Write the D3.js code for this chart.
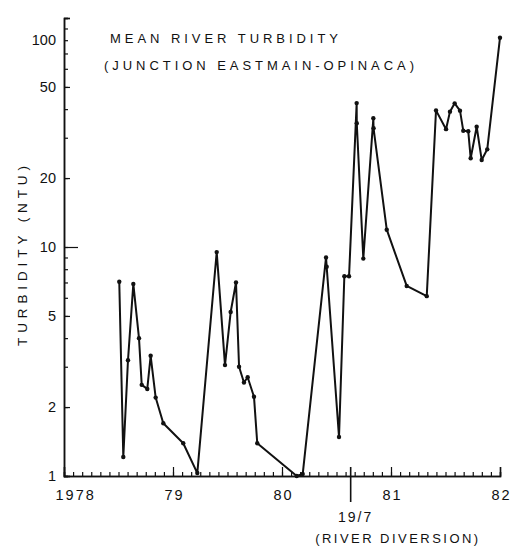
<!DOCTYPE html>
<html>
<head>
<meta charset="utf-8">
<script src="https://cdn.jsdelivr.net/npm/d3@7"></script>
<style>
  body { margin: 0; background: #fff; }
  text { font-family: "Liberation Sans", Arial, sans-serif; fill: #111; }
</style>
</head>
<body>
<div id="container"></div>
<script>
// sampling dates as decimal years
let dates = [
  1978.507, 1978.544, 1978.587, 1978.636, 1978.688, 1978.713, 1978.764, 1978.795,
  1978.841, 1978.911, 1979.094, 1979.223,
  1979.401, 1979.477, 1979.529, 1979.578, 1979.606, 1979.651, 1979.685, 1979.743,
  1979.773, 1980.135, 1980.190,
  1980.404, 1980.410, 1980.523, 1980.572, 1980.615, 1980.685, 1980.686, 1980.746,
  1980.838, 1980.840, 1980.961, 1981.144, 1981.328,
  1981.413, 1981.505, 1981.541, 1981.584, 1981.633, 1981.663, 1981.709, 1981.731,
  1981.786, 1981.832, 1981.883, 1982.0
];
// mean turbidity (NTU)
let turbidity = [
  7.05, 1.21, 3.2, 6.9, 4.0, 2.5, 2.4, 3.35,
  2.2, 1.7, 1.39, 1.03,
  9.5, 3.05, 5.2, 7.0, 3.0, 2.56, 2.7, 2.22,
  1.39, 1.0, 1.02,
  9.0, 8.2, 1.48, 7.45, 7.45, 42.5, 34.7, 8.9,
  36.5, 33, 11.9, 6.76, 6.1,
  39.5, 32.7, 39, 42.4, 39.4, 32.2, 32, 24.4,
  33.5, 24, 26.7, 82
];

let yLabelled = [1, 2, 5, 10, 20, 50, 100];
let yMinor = [1, 2, 3, 4, 5, 6, 7, 8, 9, 10, 20, 30, 40, 50, 60, 70, 80, 90, 100];
let xYears = [1978, 1979, 1980, 1981, 1982];
let xYearLabels = ["1978", "79", "80", "81", "82"];
let diversionDate = 1980.63;
let diversionLabel = "19/7";
let diversionNote = "(RIVER DIVERSION)";
let titleLines = ["MEAN RIVER TURBIDITY", "(JUNCTION EASTMAIN-OPINACA)"];
let yTitle = "TURBIDITY (NTU)";

let w = 519;
let h = 546;
let padLeft = 64;
let padRight = 500;
let padTop = 18;
let padBottom = 476;

let viz = d3.select("#container")
  .append("svg")
    .attr("width", w)
    .attr("height", h)
;

let xScale = d3.scaleLinear().domain([1978, 1982]).range([padLeft, padRight]);
let yScale = d3.scaleLog().domain([1, 100]).range([padBottom, padTop]);

// monthly ticks along the bottom
let months = d3.range(0, 49).map(function(i){ return 1978 + i / 12; });
let xMinorAxis = d3.axisBottom(xScale)
  .tickValues(months)
  .tickSize(-4)
  .tickFormat("")
;
viz.append("g")
    .attr("transform", "translate(0," + padBottom + ")")
    .call(xMinorAxis)
;

let xAxis = d3.axisBottom(xScale)
  .tickValues(xYears)
  .tickSize(-9)
  .tickPadding(14)
  .tickFormat(function(d, i){ return xYearLabels[i]; })
;
let xAxisGroup = viz.append("g")
    .attr("class", "xaxisgroup")
    .attr("transform", "translate(0," + padBottom + ")")
    .call(xAxis)
;
xAxisGroup.selectAll("text")
    .style("font-size", "14.5px")
    .style("letter-spacing", "2px")
    .attr("text-anchor", function(d, i){ return i == 0 ? "start" : "middle"; })
    .attr("dx", function(d, i){ return i == 0 ? -9 : 1; })
;

// y axis: ticks point into the plot
let yMinorAxis = d3.axisLeft(yScale)
  .tickValues(yMinor)
  .tickSize(-4)
  .tickFormat("")
;
viz.append("g")
    .attr("transform", "translate(" + padLeft + ",0)")
    .call(yMinorAxis)
;
let yAxis = d3.axisLeft(yScale)
  .tickValues(yLabelled)
  .tickSize(-6)
  .tickPadding(8)
  .tickFormat(d3.format("d"))
;
let yAxisGroup = viz.append("g")
    .attr("class", "yaxisgroup")
    .attr("transform", "translate(" + padLeft + ",0)")
    .call(yAxis)
;
yAxisGroup.selectAll("text").style("font-size", "14.5px");
// the top label sits lower on the original drawing, level with the axis cap
yAxisGroup.selectAll("text")
    .filter(function(d){ return d === 100; })
    .attr("y", 22)
;
// longer tick at 10, as drawn
yAxisGroup.selectAll(".tick line")
    .filter(function(d){ return d === 10; })
    .attr("x2", 14)
;

viz.selectAll(".domain").attr("stroke", "#111").attr("stroke-width", 1.5);
viz.selectAll(".tick line").attr("stroke", "#111").attr("stroke-width", 1.2);

// river diversion marker
let divX = xScale(diversionDate);
viz.append("line")
    .attr("x1", divX).attr("x2", divX)
    .attr("y1", padBottom - 9).attr("y2", padBottom + 26)
    .attr("stroke", "#111")
    .attr("stroke-width", 1.6)
;
viz.append("text")
    .attr("x", divX + 5)
    .attr("y", padBottom + 46)
    .attr("text-anchor", "middle")
    .style("font-size", "14px")
    .style("letter-spacing", "2px")
    .text(diversionLabel)
;
viz.append("text")
    .attr("x", divX + 46)
    .attr("y", padBottom + 67)
    .attr("text-anchor", "middle")
    .attr("textLength", 163)
    .attr("lengthAdjust", "spacing")
    .style("font-size", "13px")
    .text(diversionNote)
;

// titles
viz.append("text")
    .attr("x", 110).attr("y", 43)
    .attr("textLength", 228)
    .attr("lengthAdjust", "spacing")
    .style("font-size", "13px")
    .text(titleLines[0])
;
viz.append("text")
    .attr("x", 104).attr("y", 70)
    .attr("textLength", 310)
    .attr("lengthAdjust", "spacing")
    .style("font-size", "13px")
    .text(titleLines[1])
;
viz.append("text")
    .attr("transform", "translate(27,256) rotate(-90)")
    .attr("text-anchor", "middle")
    .attr("textLength", 180)
    .attr("lengthAdjust", "spacing")
    .style("font-size", "13.5px")
    .text(yTitle)
;

// the series
let data = dates.map(function(d, i){ return { date: d, value: turbidity[i] }; });

let lineMaker = d3.line()
  .x(function(d){ return xScale(d.date); })
  .y(function(d){ return yScale(d.value); })
;

viz.append("path")
    .datum(data)
    .attr("d", lineMaker)
    .attr("fill", "none")
    .attr("stroke", "#111")
    .attr("stroke-width", 2)
    .attr("stroke-linejoin", "round")
;

viz.selectAll(".pt")
  .data(data)
  .enter()
  .append("circle")
    .attr("class", "pt")
    .attr("cx", function(d){ return xScale(d.date); })
    .attr("cy", function(d){ return yScale(d.value); })
    .attr("r", 2.2)
    .attr("fill", "#111")
;
</script>
</body>
</html>
